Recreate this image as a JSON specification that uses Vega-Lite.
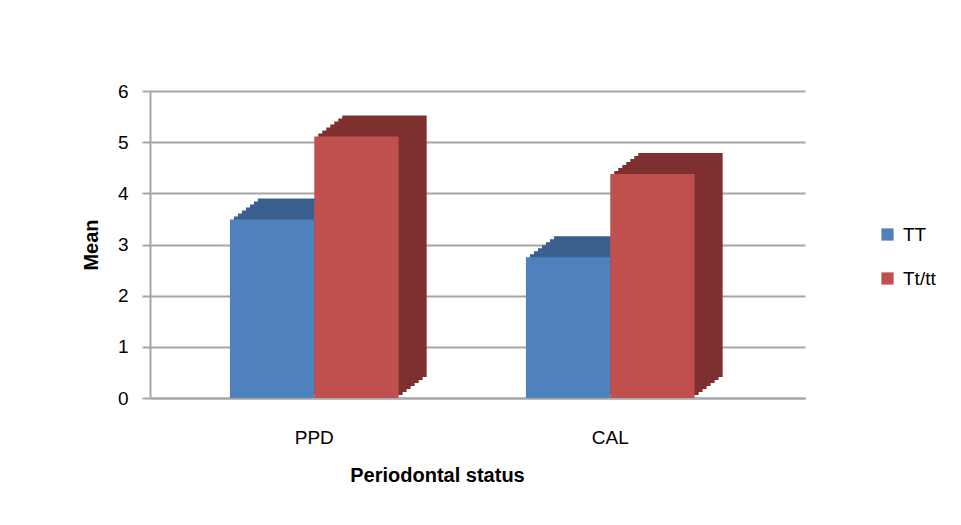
{
  "$schema": "https://vega.github.io/schema/vega-lite/v6.json",
  "autosize": "none",
  "width": 655,
  "height": 307,
  "padding": {"left": 150, "top": 91, "right": 156, "bottom": 127},
  "background": "white",
  "data": {"values": [
    {"status": "PPD", "genotype": "TT", "mean": 3.49},
    {"status": "PPD", "genotype": "Tt/tt", "mean": 5.11},
    {"status": "CAL", "genotype": "TT", "mean": 2.75},
    {"status": "CAL", "genotype": "Tt/tt", "mean": 4.38}
  ]},
  "layer": [
    {"mark": {"type": "bar"}, "encoding": {
      "x": {"field": "status", "type": "nominal", "sort": ["PPD", "CAL"], "scale": {"paddingInner": 0.43, "paddingOuter": 0.3215, "align": 0.42, "range": [28, 683]}, "axis": null},
      "xOffset": {"field": "genotype", "type": "nominal", "sort": ["TT", "Tt/tt"], "scale": {"paddingInner": 0, "paddingOuter": 0}},
      "y": {"field": "mean", "type": "quantitative", "scale": {"domain": [0, 6], "nice": false, "range": [286, -21]}, "axis": null},
      "color": {"field": "genotype", "type": "nominal", "legend": null, "scale": {"domain": ["TT", "Tt/tt"], "range": ["#3B5F8E", "#7D302F"]}}}},
    {"mark": {"type": "bar"}, "encoding": {
      "x": {"field": "status", "type": "nominal", "sort": ["PPD", "CAL"], "scale": {"paddingInner": 0.43, "paddingOuter": 0.3215, "align": 0.42, "range": [24, 679]}, "axis": null},
      "xOffset": {"field": "genotype", "type": "nominal", "sort": ["TT", "Tt/tt"], "scale": {"paddingInner": 0, "paddingOuter": 0}},
      "y": {"field": "mean", "type": "quantitative", "scale": {"domain": [0, 6], "nice": false, "range": [289, -18]}, "axis": null},
      "color": {"field": "genotype", "type": "nominal", "legend": null, "scale": {"domain": ["TT", "Tt/tt"], "range": ["#3B5F8E", "#7D302F"]}}}},
    {"mark": {"type": "bar"}, "encoding": {
      "x": {"field": "status", "type": "nominal", "sort": ["PPD", "CAL"], "scale": {"paddingInner": 0.43, "paddingOuter": 0.3215, "align": 0.42, "range": [20, 675]}, "axis": null},
      "xOffset": {"field": "genotype", "type": "nominal", "sort": ["TT", "Tt/tt"], "scale": {"paddingInner": 0, "paddingOuter": 0}},
      "y": {"field": "mean", "type": "quantitative", "scale": {"domain": [0, 6], "nice": false, "range": [292, -15]}, "axis": null},
      "color": {"field": "genotype", "type": "nominal", "legend": null, "scale": {"domain": ["TT", "Tt/tt"], "range": ["#3B5F8E", "#7D302F"]}}}},
    {"mark": {"type": "bar"}, "encoding": {
      "x": {"field": "status", "type": "nominal", "sort": ["PPD", "CAL"], "scale": {"paddingInner": 0.43, "paddingOuter": 0.3215, "align": 0.42, "range": [16, 671]}, "axis": null},
      "xOffset": {"field": "genotype", "type": "nominal", "sort": ["TT", "Tt/tt"], "scale": {"paddingInner": 0, "paddingOuter": 0}},
      "y": {"field": "mean", "type": "quantitative", "scale": {"domain": [0, 6], "nice": false, "range": [295, -12]}, "axis": null},
      "color": {"field": "genotype", "type": "nominal", "legend": null, "scale": {"domain": ["TT", "Tt/tt"], "range": ["#3B5F8E", "#7D302F"]}}}},
    {"mark": {"type": "bar"}, "encoding": {
      "x": {"field": "status", "type": "nominal", "sort": ["PPD", "CAL"], "scale": {"paddingInner": 0.43, "paddingOuter": 0.3215, "align": 0.42, "range": [12, 667]}, "axis": null},
      "xOffset": {"field": "genotype", "type": "nominal", "sort": ["TT", "Tt/tt"], "scale": {"paddingInner": 0, "paddingOuter": 0}},
      "y": {"field": "mean", "type": "quantitative", "scale": {"domain": [0, 6], "nice": false, "range": [298, -9]}, "axis": null},
      "color": {"field": "genotype", "type": "nominal", "legend": null, "scale": {"domain": ["TT", "Tt/tt"], "range": ["#3B5F8E", "#7D302F"]}}}},
    {"mark": {"type": "bar"}, "encoding": {
      "x": {"field": "status", "type": "nominal", "sort": ["PPD", "CAL"], "scale": {"paddingInner": 0.43, "paddingOuter": 0.3215, "align": 0.42, "range": [8, 663]}, "axis": null},
      "xOffset": {"field": "genotype", "type": "nominal", "sort": ["TT", "Tt/tt"], "scale": {"paddingInner": 0, "paddingOuter": 0}},
      "y": {"field": "mean", "type": "quantitative", "scale": {"domain": [0, 6], "nice": false, "range": [301, -6]}, "axis": null},
      "color": {"field": "genotype", "type": "nominal", "legend": null, "scale": {"domain": ["TT", "Tt/tt"], "range": ["#3B5F8E", "#7D302F"]}}}},
    {"mark": {"type": "bar"}, "encoding": {
      "x": {"field": "status", "type": "nominal", "sort": ["PPD", "CAL"], "scale": {"paddingInner": 0.43, "paddingOuter": 0.3215, "align": 0.42, "range": [4, 659]}, "axis": null},
      "xOffset": {"field": "genotype", "type": "nominal", "sort": ["TT", "Tt/tt"], "scale": {"paddingInner": 0, "paddingOuter": 0}},
      "y": {"field": "mean", "type": "quantitative", "scale": {"domain": [0, 6], "nice": false, "range": [304, -3]}, "axis": null},
      "color": {"field": "genotype", "type": "nominal", "legend": null, "scale": {"domain": ["TT", "Tt/tt"], "range": ["#3B5F8E", "#7D302F"]}}}},
    {
      "mark": {"type": "bar"},
      "encoding": {
        "x": {"field": "status", "type": "nominal", "sort": ["PPD", "CAL"],
          "scale": {"paddingInner": 0.43, "paddingOuter": 0.3215, "align": 0.42},
          "axis": {"title": "Periodontal status", "labelAngle": 0, "labelFontSize": 19, "labelFont": "Liberation Sans", "labelColor": "#000", "labelPadding": 30, "ticks": false, "domainColor": "#A6A6A6", "domainWidth": 2, "titleFont": "Liberation Sans", "titleFontSize": 20, "titleFontWeight": "bold", "titleColor": "#000", "titlePadding": 18, "titleX": 287, "titleAnchor": "middle"}},
        "xOffset": {"field": "genotype", "type": "nominal", "sort": ["TT", "Tt/tt"], "scale": {"paddingInner": 0, "paddingOuter": 0}},
        "y": {"field": "mean", "type": "quantitative",
          "scale": {"domain": [0, 6], "nice": false},
          "axis": {"title": "Mean", "values": [0, 1, 2, 3, 4, 5, 6], "grid": true, "gridColor": "#A6A6A6", "gridWidth": 2, "domainColor": "#A6A6A6", "domainWidth": 2, "tickColor": "#A6A6A6", "tickSize": 8, "tickWidth": 2, "labelFontSize": 19, "labelFont": "Liberation Sans", "labelColor": "#000", "labelPadding": 14, "titleFont": "Liberation Sans", "titleFontSize": 20, "titleFontWeight": "bold", "titleColor": "#000", "titlePadding": 16}},
        "color": {"field": "genotype", "type": "nominal",
          "scale": {"domain": ["TT", "Tt/tt"], "range": ["#4F81BD", "#C0504D"]},
          "legend": {"title": null, "orient": "none", "legendX": 728, "legendY": 134, "symbolType": "square", "symbolSize": 150, "symbolStrokeWidth": 0, "labelFontSize": 19, "labelFont": "Liberation Sans", "labelColor": "#000", "rowPadding": 24, "labelOffset": 6}}
      }
    }
  ],
  "resolve": {"scale": {"color": "independent", "x": "independent", "y": "independent", "xOffset": "independent"}, "axis": {"x": "independent", "y": "independent"}},
  "config": {"view": {"stroke": null}}
}
